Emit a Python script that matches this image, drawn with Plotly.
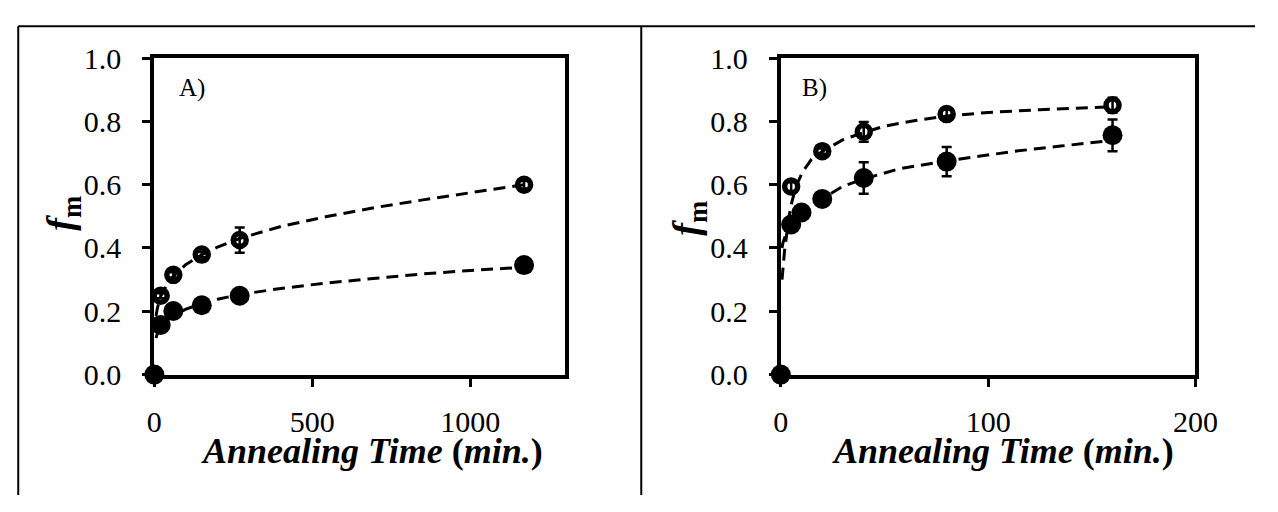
import plotly.graph_objects as go

W, H = 1278, 512

# ---------------- Panel A data ----------------
ta_open = [20, 60, 150, 270, 1170]
fa_open = [0.249, 0.315, 0.379, 0.425, 0.600]
ea_open = [0.008, 0.008, 0.008, 0.040, 0.012]

ta_fill = [0, 20, 60, 150, 270, 1170]
fa_fill = [0.0, 0.157, 0.201, 0.219, 0.249, 0.346]
ea_fill = [0.0, 0.008, 0.008, 0.008, 0.008, 0.008]

# dashed fit curves
ta_fit = [5, 10, 20, 40, 60, 100, 150, 200, 270, 400, 550, 700, 850, 1000, 1170]
fa_fit_open = [0.185, 0.212, 0.247, 0.285, 0.31, 0.348, 0.378, 0.403, 0.43, 0.468, 0.5, 0.528, 0.552, 0.575, 0.600]
fa_fit_fill = [0.115, 0.131, 0.15, 0.172, 0.187, 0.207, 0.224, 0.238, 0.253, 0.272, 0.29, 0.305, 0.318, 0.329, 0.339]

# ---------------- Panel B data ----------------
tb_open = [5, 20, 40, 80, 160]
fb_open = [0.594, 0.706, 0.767, 0.823, 0.851]
eb_open = [0.014, 0.008, 0.031, 0.014, 0.024]

tb_fill = [0, 5, 10, 20, 40, 80, 160]
fb_fill = [0.0, 0.474, 0.512, 0.555, 0.621, 0.673, 0.756]
eb_fill = [0.0, 0.008, 0.008, 0.008, 0.050, 0.046, 0.050]

tb_fit_open = [0.6, 1, 1.8, 2.8, 4, 5.5, 7.7, 10.5, 14.7, 20, 30, 40, 50, 65, 80, 100, 125, 160]
fb_fit_open = [0.30, 0.34, 0.39, 0.44, 0.50, 0.55, 0.60, 0.64, 0.679, 0.705, 0.742, 0.765, 0.785, 0.803, 0.817, 0.828, 0.837, 0.846]
tb_fit_fill = [0.6, 1, 2, 3.5, 5, 7.5, 10, 15, 20, 30, 40, 57, 80, 112, 135, 160]
fb_fit_fill = [0.40, 0.415, 0.435, 0.455, 0.47, 0.493, 0.51, 0.535, 0.555, 0.595, 0.618, 0.65, 0.675, 0.705, 0.722, 0.74]

y_ticks = [0.0, 0.2, 0.4, 0.6, 0.8, 1.0]
xa_ticks = [0, 500, 1000]
xb_ticks = [0, 100, 200]

FONT = "Liberation Serif"
dash_line = dict(color="black", width=3, dash="12px,7px")
open_marker = dict(symbol="circle-open", size=13, color="black", line=dict(width=5.5, color="black"))
fill_marker = dict(symbol="circle", size=20, color="black", line=dict(width=0))


def err(arr):
    return dict(type="data", array=arr, visible=True, color="black", thickness=2.5, width=5)


fig = go.Figure()

# Panel A
fig.add_trace(go.Scatter(x=ta_fit, y=fa_fit_open, mode="lines", line=dash_line, xaxis="x", yaxis="y", hoverinfo="skip"))
fig.add_trace(go.Scatter(x=ta_fit, y=fa_fit_fill, mode="lines", line=dash_line, xaxis="x", yaxis="y", hoverinfo="skip"))
fig.add_trace(go.Scatter(x=ta_open, y=fa_open, mode="markers", marker=open_marker, error_y=err(ea_open),
                         xaxis="x", yaxis="y", cliponaxis=False))
fig.add_trace(go.Scatter(x=ta_fill, y=fa_fill, mode="markers", marker=fill_marker, error_y=err(ea_fill),
                         xaxis="x", yaxis="y", cliponaxis=False))

# Panel B
fig.add_trace(go.Scatter(x=tb_fit_open, y=fb_fit_open, mode="lines", line=dash_line, xaxis="x2", yaxis="y2", hoverinfo="skip"))
fig.add_trace(go.Scatter(x=tb_fit_fill, y=fb_fit_fill, mode="lines", line=dash_line, xaxis="x2", yaxis="y2", hoverinfo="skip"))
fig.add_trace(go.Scatter(x=tb_open, y=fb_open, mode="markers", marker=open_marker, error_y=err(eb_open),
                         xaxis="x2", yaxis="y2", cliponaxis=False))
fig.add_trace(go.Scatter(x=tb_fill, y=fb_fill, mode="markers", marker=fill_marker, error_y=err(eb_fill),
                         xaxis="x2", yaxis="y2", cliponaxis=False))

axis_common = dict(showline=True, linewidth=4, linecolor="black", mirror=True,
                   ticks="outside", ticklen=8, tickwidth=3, tickcolor="black",
                   showgrid=False, zeroline=False,
                   tickfont=dict(family=FONT, size=30, color="black"))

yd = [1 - 383 / H, 1 - 44 / H]
fig.update_layout(
    width=W, height=H,
    margin=dict(l=0, r=0, t=0, b=0),
    paper_bgcolor="white", plot_bgcolor="white",
    showlegend=False,
    xaxis=dict(domain=[150 / W, 571 / W], range=[0, 1300], tickvals=xa_ticks, anchor="y",
               ticklabelstandoff=9, **axis_common),
    yaxis=dict(domain=yd, range=[0, 1], tickvals=y_ticks, tickformat=".1f", anchor="x",
               ticklabelstandoff=15, **axis_common),
    xaxis2=dict(domain=[792 / W, 1217 / W], range=[0, 200], tickvals=xb_ticks, anchor="y2",
                ticklabelstandoff=9, **axis_common),
    yaxis2=dict(domain=yd, range=[0, 1], tickvals=y_ticks, tickformat=".1f", anchor="x2",
                ticklabelstandoff=15, **axis_common),
)

title_txt = "<b><i>Annealing Time</i> (<i>min.</i>)</b>"
ytitle_txt = "<b><i>f</i><sub>m</sub></b>"
ann = []
for cx, cy_t, yx, yy, lab, lx in [(373.5, 465, 56, 210, "A)", 173), (1019.5, 465, 698, 216, "B)", 812)]:
    ann.append(dict(text=title_txt, x=cx / W, y=1 - cy_t / H, xref="paper", yref="paper",
                    xanchor="center", yanchor="middle", showarrow=False,
                    font=dict(family=FONT, size=36, color="black")))
    ann.append(dict(text=ytitle_txt, x=yx / W, y=1 - yy / H, xref="paper", yref="paper",
                    xanchor="center", yanchor="middle", showarrow=False, textangle=-90,
                    font=dict(family=FONT, size=38, color="black")))
    ann.append(dict(text=lab, x=lx / W, y=1 - 76 / H, xref="paper", yref="paper",
                    xanchor="left", yanchor="middle", showarrow=False,
                    font=dict(family=FONT, size=25, color="black")))
fig.update_layout(annotations=ann)

# outer frame lines of the two chart boxes
frame = dict(color="black", width=2)
fig.update_layout(shapes=[
    dict(type="line", xref="paper", yref="paper", x0=10.5 / W, x1=10.5 / W, y0=0, y1=1 - 10 / H, line=frame),
    dict(type="line", xref="paper", yref="paper", x0=649 / W, x1=649 / W, y0=0, y1=1 - 10 / H, line=frame),
    dict(type="line", xref="paper", yref="paper", x0=10.5 / W, x1=1, y0=1 - 10 / H, y1=1 - 10 / H, line=frame),
])

fig.write_html("out.html")
